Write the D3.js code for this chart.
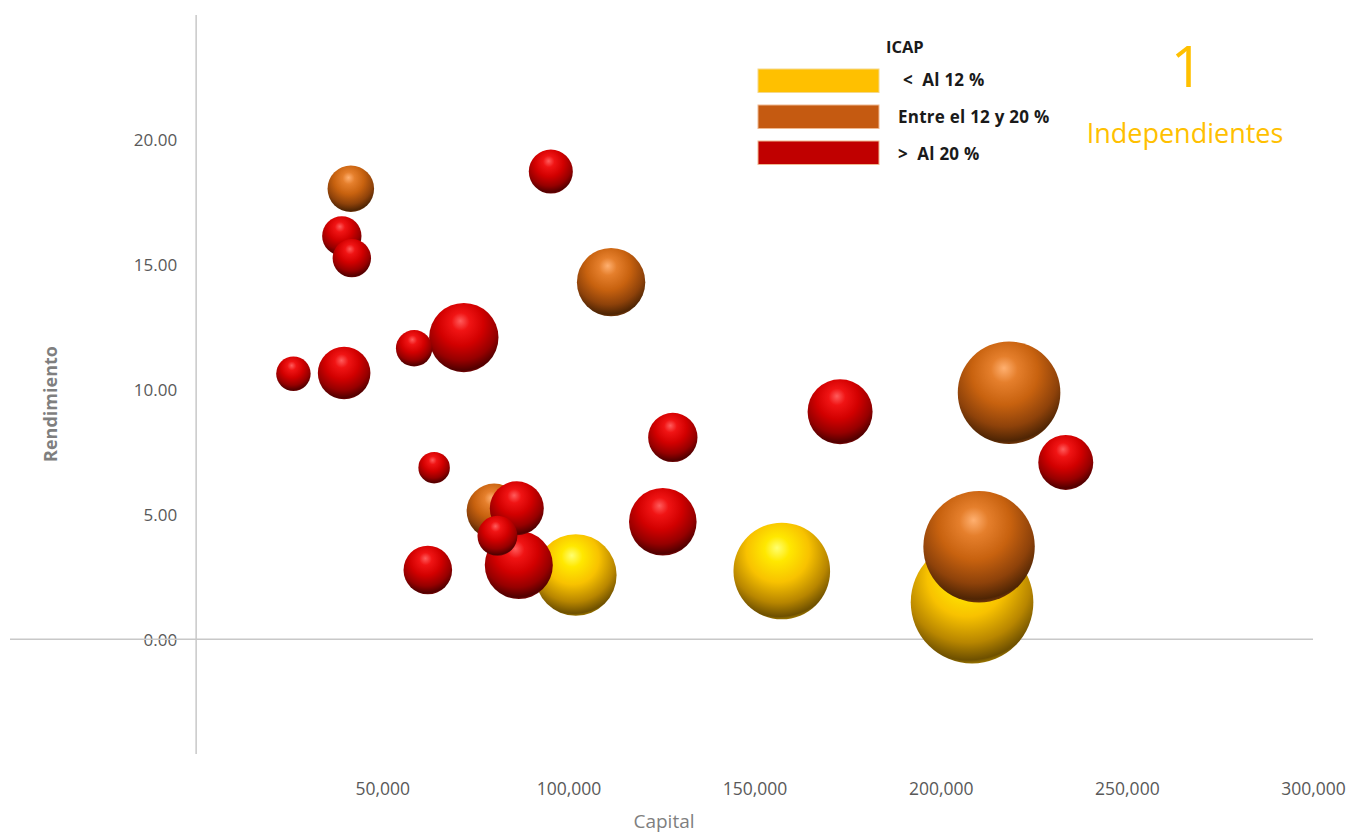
<!DOCTYPE html>
<html>
<head>
<meta charset="utf-8">
<script src="https://cdn.jsdelivr.net/npm/d3@7"></script>
<style>
  html, body { margin: 0; padding: 0; background: #ffffff; }
  svg { display: block; }
</style>
</head>
<body>
<svg id="chart" width="1349" height="833"></svg>
<script>
// ---------------- DATA ----------------
const seriesNames = ["<  Al 12 %", "Entre el 12 y 20 %", ">  Al 20 %"];
const seriesColors = ["#FFC000", "#C55A11", "#C00000"];

// Serie 1: ICAP < 12 %
const lowCapital = [101980, 157310, 208420];
const lowRendimiento = [2.57, 2.73, 1.48];
const lowSize = [44.3, 62.1, 100];

// Serie 2: ICAP entre 12 y 20 %
const midCapital = [41550, 111460, 218360, 80040, 210300];
const midRendimiento = [18.04, 14.30, 9.87, 5.13, 3.70];
const midSize = [14.4, 31.1, 70.0, 20.1, 82.6];

// Serie 3: ICAP > 20 %
const highCapital = [95270, 39130, 41820, 71900, 58550, 26130, 39750, 172970,
                     128040, 233590, 63920, 86130, 80930, 125350, 86670, 62230];
const highRendimiento = [18.73, 16.15, 15.26, 12.08, 11.65, 10.63, 10.66, 9.11,
                         8.08, 7.08, 6.87, 5.24, 4.14, 4.70, 2.97, 2.77];
const highSize = [12.9, 10.3, 9.8, 32.0, 8.8, 7.9, 18.4, 28.1,
                  16.2, 20.1, 6.6, 19.4, 10.6, 30.4, 30.8, 15.7];

const xTickValues = [50000, 100000, 150000, 200000, 250000, 300000];
const yTickValues = [0, 5, 10, 15, 20];

const titleNumber = "1";
const titleText = "Independientes";
const legendTitle = "ICAP";
const xAxisTitle = "Capital";
const yAxisTitle = "Rendimiento";

// ---------------- CHART ----------------
const svg = d3.select("#chart");
const x = d3.scaleLinear().domain([-50000, 300000]).range([10, 1313]);
const y = d3.scaleLinear().domain([-4.6, 25]).range([754, 15]);
const r = d3.scaleSqrt().domain([0, 100]).range([0, 61.3]);

const font = "'Open Sans', 'DejaVu Sans', sans-serif";

// gradients for 3D spheres
const defs = svg.append("defs");
const shades = [
  { hi: "#FFFF70", l1: "#FFE800", base: "#F8C200", dark: "#B88600", darkest: "#6E5000", rim: "#E0B000" },
  { hi: "#FFB070", l1: "#E57F2C", base: "#C8620F", dark: "#8E420A", darkest: "#4F2504", rim: "#A55010" },
  { hi: "#FF5C5C", l1: "#F01414", base: "#D20000", dark: "#960000", darkest: "#520000", rim: "#B01010" }
];
shades.forEach((s, i) => {
  const g = defs.append("radialGradient")
    .attr("id", "sph" + i)
    .attr("cx", 0.47).attr("cy", 0.33).attr("r", 0.72)
    .attr("fx", 0.45).attr("fy", 0.26);
  [[0, s.hi], [0.18, s.l1], [0.45, s.base], [0.72, s.dark], [0.9, s.darkest], [1, s.rim]]
    .forEach(([o, c]) => g.append("stop").attr("offset", o).attr("stop-color", c));
});

// axes lines
svg.append("line")
  .attr("x1", x(0)).attr("x2", x(0)).attr("y1", y(25)).attr("y2", y(-4.6))
  .attr("stroke", "#c8c8c8").attr("stroke-width", 1.5);

// y axis labels
const yAxis = d3.axisLeft(y).tickValues(yTickValues).tickFormat(d3.format(".2f")).tickSize(0).tickPadding(0);
const yG = svg.append("g").attr("transform", `translate(${x(0) - 19},0)`).call(yAxis);
yG.select(".domain").remove();
yG.selectAll("text").attr("font-family", font).attr("font-size", 17).attr("fill", "#595959").attr("dy", "0.36em");

// x axis labels (low position)
const xAxis = d3.axisBottom(x).tickValues(xTickValues).tickFormat(d3.format(",")).tickSize(0).tickPadding(0);
const xG = svg.append("g").attr("transform", `translate(0,795)`).call(xAxis);
xG.select(".domain").remove();
xG.selectAll("text").attr("font-family", font).attr("font-size", 17.5).attr("fill", "#595959").attr("dy", "0");

svg.append("line")
  .attr("x1", x(-50000)).attr("x2", x(300000)).attr("y1", y(0)).attr("y2", y(0))
  .attr("stroke", "#c8c8c8").attr("stroke-width", 1.5);

// axis titles
svg.append("text").attr("x", 664).attr("y", 828).attr("text-anchor", "middle")
  .attr("font-family", font).attr("font-size", 19).attr("fill", "#7f7f7f").text(xAxisTitle);
svg.append("text").attr("transform", "translate(57,404) rotate(-90)").attr("text-anchor", "middle")
  .attr("font-family", font).attr("font-size", 18).attr("font-weight", "bold").attr("fill", "#7f7f7f").text(yAxisTitle);

// bubbles
const series = [
  { cap: lowCapital, ren: lowRendimiento, size: lowSize },
  { cap: midCapital, ren: midRendimiento, size: midSize },
  { cap: highCapital, ren: highRendimiento, size: highSize }
];
const bubbleG = svg.append("g");
series.forEach((s, i) => {
  const pts = s.cap.map((c, j) => ({ c, v: s.ren[j], s: s.size[j] }))
    .sort((a, b) => b.s - a.s);
  bubbleG.append("g").selectAll("circle").data(pts).join("circle")
    .attr("cx", d => x(d.c)).attr("cy", d => y(d.v)).attr("r", d => r(d.s))
    .attr("fill", `url(#sph${i})`);
});

// legend
svg.append("text").attr("x", 886).attr("y", 53).attr("font-family", font).attr("font-size", 16.5)
  .attr("font-weight", "bold").attr("fill", "#1a1a1a").text(legendTitle);
const legY = [69, 105, 141];
const legTx = [903, 898, 898];
const legBase = [86, 123, 160];
seriesNames.forEach((n, i) => {
  svg.append("rect").attr("x", 758).attr("y", legY[i]).attr("width", 121).attr("height", 23.5)
    .attr("fill", seriesColors[i]).attr("stroke", i === 0 ? "#f5d88a" : "#f0b890").attr("stroke-width", 1);
  svg.append("text").attr("x", legTx[i]).attr("y", legBase[i]).attr("font-family", font)
    .attr("font-size", 17).attr("font-weight", "bold").attr("fill", "#1a1a1a")
    .attr("letter-spacing", 0.25)
    .attr("xml:space", "preserve").style("white-space", "pre").text(n);
});

// title
svg.append("text").attr("x", 1187).attr("y", 87).attr("text-anchor", "middle")
  .attr("font-family", font).attr("font-size", 57).attr("fill", "#FFC000").text(titleNumber);
svg.append("text").attr("x", 1185).attr("y", 143).attr("text-anchor", "middle")
  .attr("font-family", font).attr("font-size", 27).attr("fill", "#FFC000").text(titleText);
</script>
</body>
</html>
